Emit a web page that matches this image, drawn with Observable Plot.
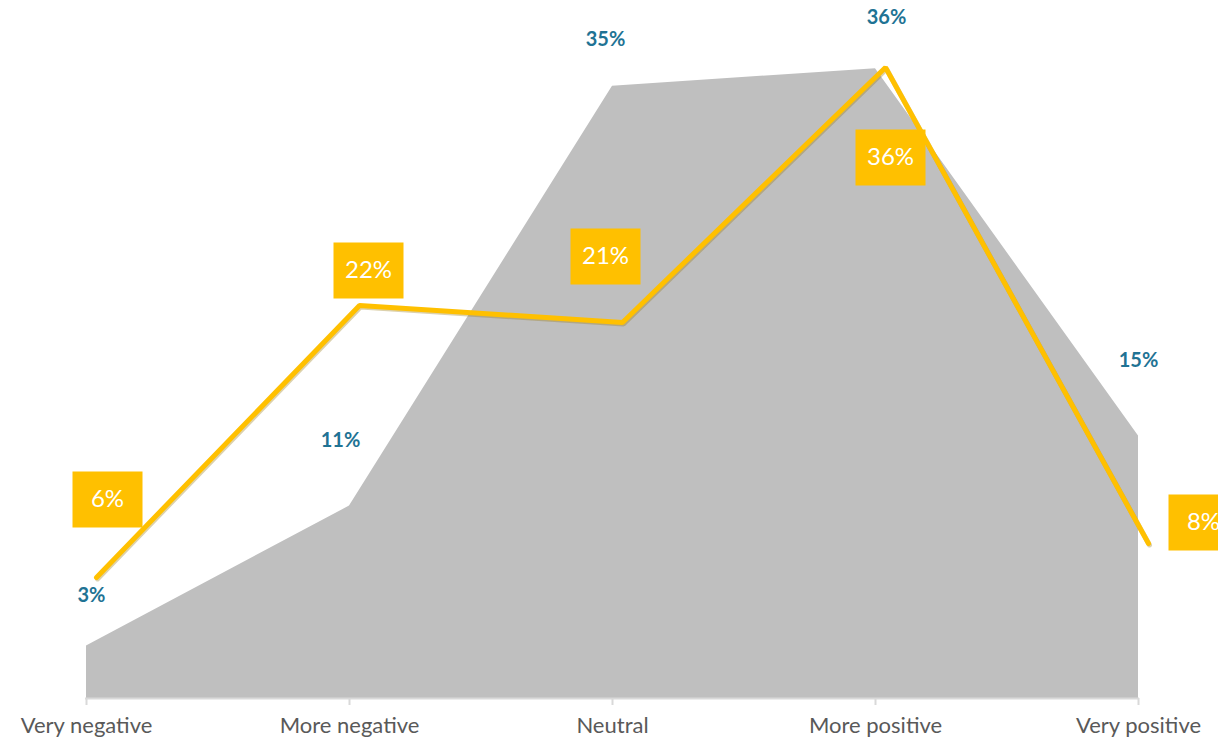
<!DOCTYPE html>
<html>
<head>
<meta charset="utf-8">
<script src="https://cdn.jsdelivr.net/npm/d3@7"></script>
<script src="https://cdn.jsdelivr.net/npm/@observablehq/plot@0.6"></script>
<style>
  html, body { margin: 0; padding: 0; background: #fff; }
  #chart svg { display: block; }
</style>
</head>
<body>
<div id="chart"></div>
<script>
// ---- data ----
const categories = ["Very negative", "More negative", "Neutral", "More positive", "Very positive"];
const areaValues = [3, 11, 35, 36, 15];   // grey area (primary axis, %)
const lineValues = [6, 22, 21, 36, 8];    // yellow line (secondary axis, %)

// ---- label layout (pixel nudges relative to each point) ----
const areaLabelNudge = [[5, -50], [-9, -65], [-7, -47], [11, -51], [0, -76]];
const lineLabelNudge = [[11, -78], [9, -35], [-17, -66], [5, 90], [55, -21]];

const areaData = categories.map((c, i) => ({cat: c, value: areaValues[i]}));
const lineData = categories.map((c, i) => ({cat: c, value: lineValues[i]}));

// primary and secondary value axes (Excel-style dual axis)
const primaryDomain = [0, 39.9];
const secondaryDomain = [-1.12, 39.94];
const toPrimary = d3.scaleLinear().domain(secondaryDomain).range(primaryDomain);

const grey = "#BFBFBF";
const yellow = "#FFC000";
const blue = "#1F7394";
const font = "Lato, 'Open Sans', sans-serif";
const lineDx = 10;

const boxSymbol = { draw(ctx) { ctx.rect(-35, -28, 70, 56); } };

const marks = [
  Plot.areaY(areaData, {x: "cat", y: "value", fill: grey, curve: "linear"}),
  Plot.ruleY([0], {stroke: "#D9D9D9", strokeWidth: 2}),
  Plot.axisX({tickSize: 7, stroke: "#D9D9D9", strokeWidth: 2, fill: "#595959", fontSize: 22, tickPadding: 12, fontFamily: font, label: null}),
  // faint shadow under the line
  Plot.lineY(lineData, {x: "cat", y: d => toPrimary(d.value), stroke: "#9c7a10", strokeOpacity: 0.35, strokeWidth: 5, dx: lineDx + 1, dy: 1.5, strokeLinecap: "round", strokeLinejoin: "miter"}),
  Plot.lineY(lineData, {x: "cat", y: d => toPrimary(d.value), stroke: yellow, strokeWidth: 5, dx: lineDx, strokeLinecap: "round", strokeLinejoin: "miter"})
];

areaData.forEach((d, i) => {
  marks.push(Plot.text([d], {x: "cat", y: "value", text: d => d.value + "%", dx: areaLabelNudge[i][0], dy: areaLabelNudge[i][1], fill: blue, fontWeight: "bold", fontSize: 20, fontFamily: font}));
});
lineData.forEach((d, i) => {
  const dx = lineDx + lineLabelNudge[i][0], dy = lineLabelNudge[i][1];
  marks.push(Plot.dot([d], {x: "cat", y: d => toPrimary(d.value), symbol: boxSymbol, fill: yellow, stroke: null, dx, dy}));
  marks.push(Plot.text([d], {x: "cat", y: d => toPrimary(d.value), text: d => d.value + "%", dx, dy, fill: "#fff", fontSize: 24, fontFamily: font}));
});

const chart = Plot.plot({
  width: 1218,
  height: 743,
  marginLeft: 85,
  marginRight: 79,
  marginTop: 0,
  marginBottom: 45,
  style: {fontFamily: font, background: "#fff", overflow: "visible"},
  x: {type: "point", domain: categories, padding: 0, axis: null},
  y: {domain: primaryDomain, axis: null},
  marks
});
document.getElementById("chart").appendChild(chart);
</script>
</body>
</html>
